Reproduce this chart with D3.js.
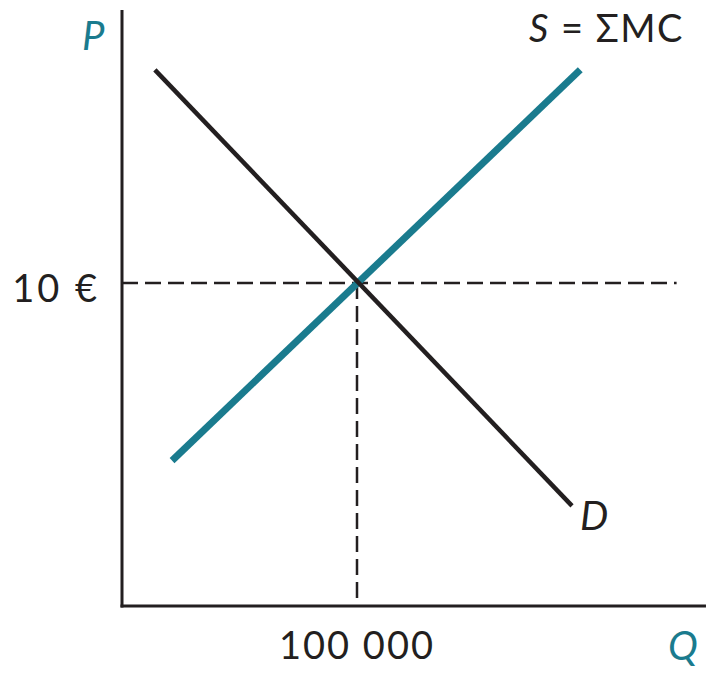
<!DOCTYPE html>
<html>
<head>
<meta charset="utf-8">
<script src="https://cdn.jsdelivr.net/npm/d3@7"></script>
<style>
  body { margin: 0; background: #fff; }
  text { font-family: Lato, "Open Sans", sans-serif; font-weight: 400; fill: #231f20; }
  .teal { fill: #1a7b8e; }
</style>
</head>
<body>
<div id="chart"></div>
<script>
// market equilibrium: quantity Q, price P (€)
const demandQ = [14000, 191500];
const demandP = [16.6, 3.1];
const supplyQ = [21300, 195000];
const supplyP = [4.5, 16.6];
const eqQ = 100000, eqP = 10;
const qLabel = "100 000", pLabel = "10 €";

const W = 706, H = 673;
const x0 = 122, y0 = 606;

const svg = d3.select("#chart").append("svg")
  .attr("width", W).attr("height", H);

const x = d3.scaleLinear().domain([0, 100000]).range([x0, 357]);
const y = d3.scaleLinear().domain([0, 10]).range([y0, 283]);

const line = d3.line().x(d => x(d[0])).y(d => y(d[1]));

// dashed guides
svg.append("line")
  .attr("x1", x(0)).attr("x2", x(236000))
  .attr("y1", y(eqP)).attr("y2", y(eqP))
  .attr("stroke", "#231f20").attr("stroke-width", 2.5)
  .attr("stroke-dasharray", "16,7");
svg.append("line")
  .attr("x1", x(eqQ)).attr("x2", x(eqQ))
  .attr("y1", y(eqP)).attr("y2", y(0))
  .attr("stroke", "#231f20").attr("stroke-width", 2.5)
  .attr("stroke-dasharray", "16,7");

// supply
svg.append("path")
  .datum(d3.zip(supplyQ, supplyP))
  .attr("d", line)
  .attr("fill", "none").attr("stroke", "#1a7b8e").attr("stroke-width", 7);

// demand
svg.append("path")
  .datum(d3.zip(demandQ, demandP))
  .attr("d", line)
  .attr("fill", "none").attr("stroke", "#231f20").attr("stroke-width", 4.5);

// axes
svg.append("line")
  .attr("x1", x(0)).attr("x2", x(0))
  .attr("y1", y(0) + 1.5).attr("y2", y(18.45))
  .attr("stroke", "#231f20").attr("stroke-width", 3);
svg.append("line")
  .attr("x1", x(0) - 1.5).attr("x2", x(248500))
  .attr("y1", y(0)).attr("y2", y(0))
  .attr("stroke", "#231f20").attr("stroke-width", 3);

// labels
svg.append("text").attr("class", "teal")
  .attr("x", 82).attr("y", 50)
  .attr("font-size", 40).attr("font-style", "italic")
  .text("P");
svg.append("text").attr("class", "teal")
  .attr("x", 668).attr("y", 660)
  .attr("font-size", 40).attr("font-style", "italic")
  .text("Q");

svg.append("text")
  .attr("x", x(0) - 22).attr("y", y(eqP) + 19)
  .attr("text-anchor", "end").attr("font-size", 38)
  .attr("letter-spacing", 3)
  .text(pLabel);
svg.append("text")
  .attr("x", x(eqQ)).attr("y", 659)
  .attr("text-anchor", "middle").attr("font-size", 38)
  .attr("letter-spacing", 2)
  .text(qLabel);

const sLab = svg.append("text")
  .attr("x", 684).attr("y", 42)
  .attr("text-anchor", "end").attr("font-size", 38)
  .attr("letter-spacing", 1.5);
sLab.append("tspan").attr("font-style", "italic").text("S");
sLab.append("tspan").text(" = ΣMC");

svg.append("text")
  .attr("x", 580).attr("y", 530)
  .attr("font-size", 40).attr("font-style", "italic")
  .text("D");
</script>
</body>
</html>
